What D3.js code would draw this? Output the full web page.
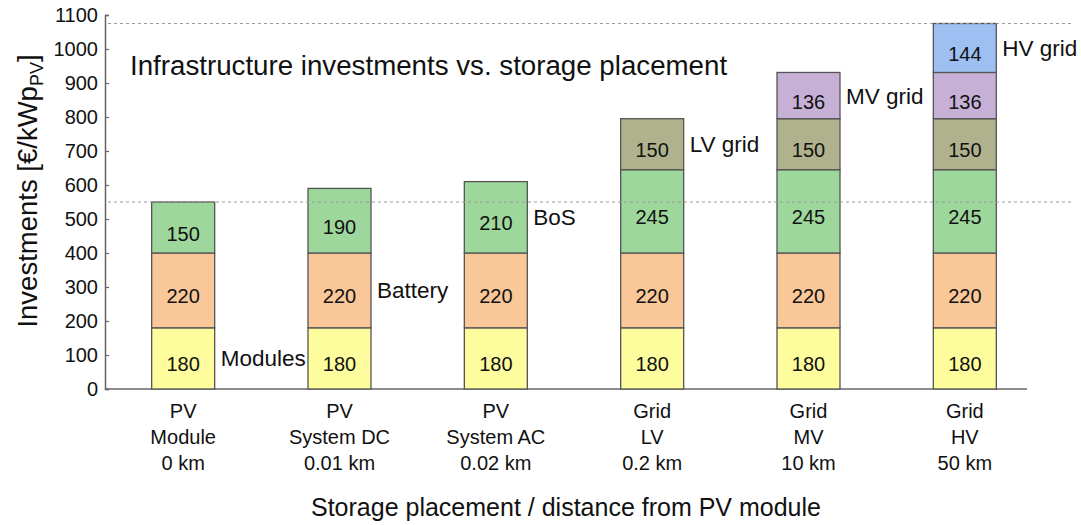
<!DOCTYPE html>
<html>
<head>
<meta charset="utf-8">
<script src="https://cdn.jsdelivr.net/npm/d3@7"></script>
<style>
  html, body { margin: 0; padding: 0; background: #fff; }
  svg text { font-family: "Liberation Sans", Arial, sans-serif; fill: #111; }
</style>
</head>
<body>
<svg id="chart" width="1081" height="525"></svg>
<script>
// Category labels (three lines each)
const categories = ["PV Module", "PV System DC", "PV System AC", "Grid LV", "Grid MV", "Grid HV"];
const categoryLines = [
  ["PV", "Module", "0 km"],
  ["PV", "System DC", "0.01 km"],
  ["PV", "System AC", "0.02 km"],
  ["Grid", "LV", "0.2 km"],
  ["Grid", "MV", "10 km"],
  ["Grid", "HV", "50 km"]
];

// Cost components in €/kWp_PV, stacked bottom to top
const seriesNames = ["Modules", "Battery", "BoS", "LV grid", "MV grid", "HV grid"];
const modules = [180, 180, 180, 180, 180, 180];
const battery = [220, 220, 220, 220, 220, 220];
const bos     = [150, 190, 210, 245, 245, 245];
const lvGrid  = [0, 0, 0, 150, 150, 150];
const mvGrid  = [0, 0, 0, 0, 136, 136];
const hvGrid  = [0, 0, 0, 0, 0, 144];
const seriesColors = ["#fdfd9d", "#f9c798", "#9dd79c", "#b0b18d", "#c6b0d6", "#9ebff2"];

const yTicks = [0, 100, 200, 300, 400, 500, 600, 700, 800, 900, 1000, 1100];

const svg = d3.select("#chart");

const x = d3.scaleBand()
  .domain(categories)
  .range([105, 1043])
  .paddingInner(0.597)
  .paddingOuter(0.2985);

const y = d3.scaleLinear().domain([0, 1100]).range([389, 15]);

const table = categories.map((c, i) => ({
  category: c,
  "Modules": modules[i], "Battery": battery[i], "BoS": bos[i],
  "LV grid": lvGrid[i], "MV grid": mvGrid[i], "HV grid": hvGrid[i]
}));
const stacked = d3.stack().keys(seriesNames)(table);
const color = d3.scaleOrdinal().domain(seriesNames).range(seriesColors);

// Y axis with inward ticks
const yAxis = svg.append("g")
  .attr("transform", "translate(105,0)")
  .call(d3.axisLeft(y).tickValues(yTicks).tickFormat(d3.format("d")).tickSize(-4).tickPadding(7));
yAxis.select(".domain").attr("stroke", "#666").attr("stroke-width", 1.5);
yAxis.selectAll(".tick line").attr("stroke", "#666").attr("stroke-width", 1.2);
yAxis.selectAll(".tick text")
  .style("font-size", "20px")
  .attr("fill", "#111");

// X axis baseline
svg.append("line")
  .attr("x1", 105).attr("x2", 1027)
  .attr("y1", y(0)).attr("y2", y(0))
  .attr("stroke", "#666").attr("stroke-width", 1.5);

// Bars
const layers = svg.append("g").selectAll("g")
  .data(stacked)
  .join("g")
  .attr("fill", d => color(d.key));

layers.selectAll("rect")
  .data(d => d.filter(p => p[1] - p[0] > 0))
  .join("rect")
  .attr("x", d => x(d.data.category))
  .attr("width", x.bandwidth())
  .attr("y", d => y(d[1]))
  .attr("height", d => y(d[0]) - y(d[1]))
  .attr("stroke", "#555")
  .attr("stroke-width", 1.3);

// Segment values
layers.selectAll("text")
  .data(d => d.filter(p => p[1] - p[0] > 0))
  .join("text")
  .attr("x", d => x(d.data.category) + x.bandwidth() / 2)
  .attr("y", d => (y(d[0]) + y(d[1])) / 2 + 13)
  .attr("text-anchor", "middle")
  .style("font-size", "20px")
  .text(d => d[1] - d[0]);

// Reference lines at the smallest and largest totals
const totals = table.map((r, i) => modules[i] + battery[i] + bos[i] + lvGrid[i] + mvGrid[i] + hvGrid[i]);
[d3.min(totals), d3.max(totals)].forEach(v => {
  svg.append("line")
    .attr("x1", 108).attr("x2", 1072)
    .attr("y1", y(v)).attr("y2", y(v))
    .attr("stroke", "#999").attr("stroke-width", 1)
    .attr("stroke-dasharray", "3,3");
});

// Series names beside the bar where each component first appears
seriesNames.forEach((name, i) => {
  const seg = stacked[i][i];
  svg.append("text")
    .attr("x", x(categories[i]) + x.bandwidth() + 6)
    .attr("y", (y(seg[0]) + y(seg[1])) / 2 + 8)
    .style("font-size", "22.5px")
    .text(name);
});

// Category labels
categoryLines.forEach((lines, i) => {
  const t = svg.append("text")
    .attr("text-anchor", "middle")
    .style("font-size", "20px");
  lines.forEach((ln, j) => {
    t.append("tspan")
      .attr("x", x(categories[i]) + x.bandwidth() / 2)
      .attr("y", 418 + j * 26)
      .text(ln);
  });
});

// Title
svg.append("text")
  .attr("x", 130).attr("y", 75)
  .style("font-size", "27.7px")
  .text("Infrastructure investments vs. storage placement");

// Axis titles
const yTitle = svg.append("text")
  .attr("transform", "translate(37,191) rotate(-90)")
  .attr("text-anchor", "middle")
  .style("font-size", "27.5px");
yTitle.append("tspan").text("Investments [€/kWp");
yTitle.append("tspan").attr("dy", 6).style("font-size", "18px").text("PV");
yTitle.append("tspan").attr("dy", -6).text("]");

svg.append("text")
  .attr("x", 566).attr("y", 516)
  .attr("text-anchor", "middle")
  .style("font-size", "25px")
  .text("Storage placement / distance from PV module");
</script>
</body>
</html>
